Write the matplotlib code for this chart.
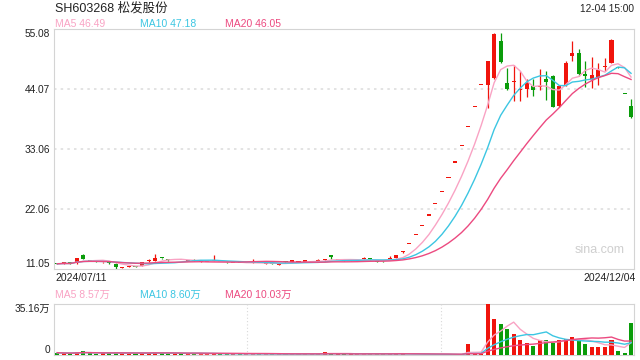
import matplotlib
matplotlib.use('Agg')
import matplotlib.pyplot as plt
import numpy as np
import pandas as pd

plt.rcParams['font.family'] = ['Liberation Sans', 'Noto Sans CJK SC', 'DejaVu Sans']

# 日K数据 2024/07/11 - 2024/12/04 (停牌日不计)
opens = [12.20, 12.15, 12.20, 12.37, 13.76, 12.70, 12.56, 12.35, 12.35, 12.11,
         11.36, 11.52, 11.58, 11.69, 12.55, 12.66, 13.12, 12.80, 12.76, 12.80,
         12.62, 12.70, 12.45, 12.43, 12.68, 12.46, 12.40, 12.22, 12.26, 12.20,
         12.28, 12.26, 12.08, 12.12, 11.96, 12.40, 12.50, 12.45, 12.50, 12.45,
         12.58, 12.76, 13.45, 12.76, 12.68, 12.62, 12.64, 12.95, 12.92, 12.50,
         12.55, 13.00, 13.21, 14.22, 15.73, 17.30, 19.03, 20.94, 23.03, 25.33,
         27.86, 30.65, 33.71, 37.08, 40.79, 44.87, 44.87, 46.10, 52.93, 45.18,
         45.42, 43.95, 44.08, 44.69, 44.56, 45.97, 46.52, 41.02, 44.87, 50.24,
         50.74, 46.89, 45.91, 46.10, 48.17, 48.96, 48.10, 43.25, 41.02]
highs = [12.25, 12.30, 12.30, 13.15, 13.90, 12.85, 12.62, 12.45, 12.40, 12.15,
         11.42, 11.60, 11.62, 12.40, 13.00, 13.90, 13.15, 12.90, 12.82, 12.85,
         12.70, 13.03, 12.52, 12.50, 13.65, 12.50, 12.48, 12.28, 12.30, 12.27,
         12.95, 12.30, 12.15, 12.16, 12.02, 12.45, 12.70, 12.52, 12.80, 12.52,
         13.00, 13.00, 13.48, 12.82, 12.72, 12.70, 12.70, 13.40, 12.98, 12.55,
         12.60, 13.50, 13.76, 14.45, 15.73, 17.30, 19.03, 20.94, 23.03, 25.33,
         27.86, 30.65, 33.71, 37.08, 40.79, 44.87, 49.36, 54.40, 54.40, 48.04,
         48.54, 47.49, 45.91, 45.97, 47.75, 47.49, 46.70, 44.87, 49.32, 52.93,
         51.47, 49.27, 49.95, 48.85, 49.76, 53.30, 48.15, 43.25, 42.30]
lows = [12.05, 12.05, 12.10, 12.00, 13.00, 12.55, 12.45, 12.28, 12.10, 11.10,
        11.30, 11.45, 11.50, 11.65, 12.45, 12.60, 13.02, 12.65, 12.70, 12.72,
        12.58, 12.62, 12.42, 12.40, 12.60, 12.40, 12.30, 12.20, 12.20, 12.18,
        12.22, 12.18, 12.05, 12.05, 11.92, 12.30, 12.40, 12.42, 12.40, 12.42,
        12.50, 12.65, 12.95, 12.72, 12.60, 12.60, 12.60, 12.90, 12.85, 12.45,
        12.50, 12.98, 13.18, 14.00, 15.73, 17.30, 19.03, 20.94, 23.03, 25.33,
        27.86, 30.65, 33.71, 37.08, 40.79, 44.87, 40.71, 45.95, 48.96, 44.00,
        41.94, 41.94, 42.73, 42.91, 43.95, 42.12, 40.80, 40.85, 44.74, 49.27,
        46.60, 44.45, 44.37, 44.87, 47.49, 48.90, 48.00, 43.22, 38.87]
closes = [12.10, 12.20, 12.17, 13.10, 13.03, 12.66, 12.52, 12.38, 12.30, 11.56,
          11.40, 11.58, 11.54, 12.37, 12.62, 13.21, 13.08, 12.76, 12.80, 12.78,
          12.66, 12.66, 12.50, 12.47, 12.72, 12.42, 12.37, 12.26, 12.22, 12.25,
          12.35, 12.22, 12.12, 12.08, 12.00, 12.36, 12.55, 12.50, 12.55, 12.50,
          12.62, 12.84, 13.42, 12.80, 12.64, 12.67, 12.68, 13.00, 12.90, 12.48,
          12.53, 13.05, 13.76, 14.30, 15.73, 17.30, 19.03, 20.94, 23.03, 25.33,
          27.86, 30.65, 33.71, 37.08, 40.79, 44.87, 49.36, 54.29, 49.14, 44.08,
          45.60, 44.05, 45.18, 44.01, 44.74, 45.36, 40.89, 44.69, 48.96, 50.68,
          46.89, 46.58, 46.70, 47.62, 48.35, 53.12, 48.04, 43.22, 38.92]
# 成交量, 万手
volumes = [1.6, 1.2, 1.1, 1.9, 2.6, 1.4, 1.0, 1.1, 1.2, 1.8,
           1.3, 1.0, 0.9, 1.5, 1.6, 2.3, 1.2, 1.0, 0.9, 0.8,
           0.9, 1.2, 0.8, 0.8, 1.3, 0.9, 0.8, 0.7, 0.7, 0.7,
           0.9, 0.7, 0.7, 0.6, 0.6, 0.7, 0.8, 0.7, 0.8, 0.7,
           0.8, 1.9, 1.1, 0.8, 0.7, 0.6, 0.6, 0.7, 0.8, 0.8,
           0.6, 0.9, 1.4, 0.9, 0.3, 0.2, 0.2, 0.3, 0.2, 0.3,
           0.3, 0.4, 0.4, 7.5, 0.6, 0.9, 35.16, 25.0, 21.3, 17.7,
           14.8, 10.4, 8.5, 6.3, 10.4, 10.4, 8.5, 10.2, 11.4, 12.8,
           11.0, 7.5, 5.8, 5.3, 5.85, 10.5, 3.0, 1.5, 22.0]

price_ticks = [11.05, 22.06, 33.06, 44.07, 55.08]
ma_labels = ['MA5 46.49', 'MA10 47.18', 'MA20 46.05']
vol_ma_labels = ['MA5 8.57万', 'MA10 8.60万', 'MA20 10.03万']
vol_max = 35.16

RED = '#f0140c'
GREEN = '#0a9c0a'
MA_COLORS = ['#f9a3c4', '#3cc6e2', '#ec4a80']
FRAME = '#d4d4d4'

o, h, l, c = map(np.array, (opens, highs, lows, closes))
x = np.arange(len(c))
prev = np.r_[c[0], c[:-1]]
colors = np.where(c > o, RED, np.where(c < o, GREEN,
                  np.where(c >= prev, RED, GREEN)))

fig = plt.figure(figsize=(6.4, 3.6), dpi=100)
ax = fig.add_axes([0.0844, 0.2514, 0.9067, 0.6672])
axv = fig.add_axes([0.0844, 0.0139, 0.9067, 0.1408])

# K线
ax.vlines(x, l, h, colors=colors, lw=0.9, zorder=2)
body = np.maximum(np.abs(c - o), 0.2)
ax.bar(x, body, 0.62, bottom=np.minimum(o, c), color=colors, lw=0, zorder=3)

s = pd.Series(c)
for n, col in zip([5, 10, 20], MA_COLORS):
    ax.plot(x, s.rolling(n, min_periods=1).mean(), color=col, lw=1.0, zorder=4)

for t in price_ticks[1:-1]:
    ax.axhline(t, color='#dedede', ls=(0, (1.5, 2.5)), lw=1.2, zorder=1)

ax.set_xlim(-0.5, len(c) - 0.5)
ax.set_ylim(price_ticks[0], price_ticks[-1])
ax.set_yticks(price_ticks)
ax.set_yticklabels(['%.2f' % t for t in price_ticks])
ax.set_xticks([])
ax.tick_params(axis='y', length=0, pad=3, labelsize=7.3, labelcolor='#222222')
labels = ax.get_yticklabels()
labels[0].set_verticalalignment('bottom')
labels[-1].set_verticalalignment('top')
for sp in ax.spines.values():
    sp.set_color(FRAME)

ax.text(0.94, 0.08, 'sina.com', transform=ax.transAxes, ha='center',
        va='center', fontsize=9, color='#cfcfcf')

# 成交量
vcol = np.where(colors == RED, RED, GREEN)
axv.bar(x, volumes, 0.62, color=vcol, lw=0, zorder=3)
vs = pd.Series(volumes)
for n, col in zip([5, 10, 20], MA_COLORS):
    axv.plot(x, vs.rolling(n, min_periods=1).mean(), color=col, lw=1.0, zorder=4)
for fr in [1 / 3, 2 / 3]:
    axv.axvline(-0.5 + fr * len(c), color='#d8d8d8', ls=(0, (1, 2)), lw=0.8, zorder=1)
axv.set_xlim(-0.5, len(c) - 0.5)
axv.set_ylim(0, vol_max)
axv.set_yticks([0, vol_max])
axv.set_yticklabels(['0', '%.2f万' % vol_max])
axv.set_xticks([])
axv.tick_params(axis='y', length=0, pad=3, labelsize=7.3, labelcolor='#222222')
vl = axv.get_yticklabels()
vl[0].set_verticalalignment('bottom')
vl[-1].set_verticalalignment('top')
for sp in axv.spines.values():
    sp.set_color(FRAME)

# 文字
fig.text(0.0859, 0.978, 'SH603268 松发股份', fontsize=9, color='#222222', va='center')
fig.text(0.9906, 0.975, '12-04 15:00', fontsize=7.3, color='#222222', va='center', ha='right')
for xs, txt, col in zip([0.0859, 0.2188, 0.352], ma_labels, MA_COLORS):
    fig.text(xs, 0.933, txt, fontsize=7.5, color=col, va='center')
for xs, txt, col in zip([0.0859, 0.2188, 0.352], vol_ma_labels, MA_COLORS):
    fig.text(xs, 0.182, txt, fontsize=7.5, color=col, va='center')
fig.text(0.0859, 0.228, '2024/07/11', fontsize=7.5, color='#222222', va='center')
fig.text(0.994, 0.228, '2024/12/04', fontsize=7.5, color='#222222', va='center', ha='right')

fig.savefig('out.png', dpi=100)
